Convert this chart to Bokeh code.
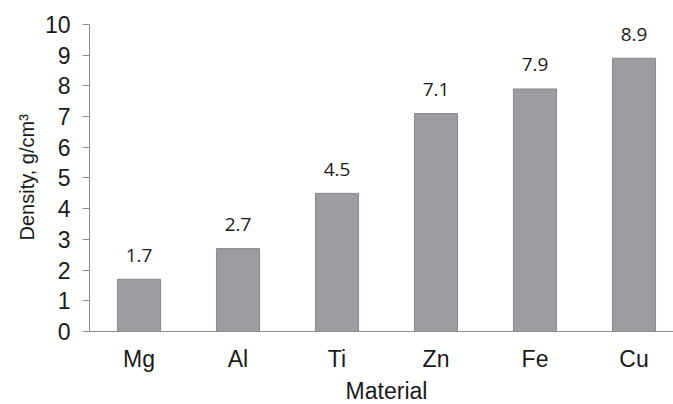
from bokeh.plotting import figure
from bokeh.models import ColumnDataSource, FixedTicker, Range1d, Span, Title
from bokeh.core.properties import value
from bokeh.embed import file_html
from bokeh.resources import INLINE

materials = ["Mg", "Al", "Ti", "Zn", "Fe", "Cu"]
density = [1.7, 2.7, 4.5, 7.1, 7.9, 8.9]
labels = ["1.7", "2.7", "4.5", "7.1", "7.9", "8.9"]
y_ticks = [0, 1, 2, 3, 4, 5, 6, 7, 8, 9, 10]
x_title = "Material"
y_title = "Density, g/cm\u00b3"

xpos = [i + 0.5 for i in range(len(materials))]
src = ColumnDataSource(dict(x=xpos, y=density, lab=labels))
cat_src = ColumnDataSource(dict(x=xpos, y=[0] * len(materials), lab=materials))
title_src = ColumnDataSource(dict(x=[len(materials) / 2], y=[0], lab=[x_title]))

p = figure(width=673, height=404, output_backend="svg", toolbar_location=None,
           x_axis_location=None,
           x_range=Range1d(0, 5.899), y_range=Range1d(-2.378, 10),
           min_border_left=89, min_border_top=24, min_border_bottom=0, min_border_right=0)
p.outline_line_color = None
p.xgrid.grid_line_color = None
p.ygrid.grid_line_color = None
p.background_fill_color = "white"

p.vbar(x="x", top="y", width=0.435, bottom=0, source=src,
       fill_color="#9b9da1", line_color="#87898d", line_width=1)
p.text(x="x", y="y", text="lab", source=src, y_offset=-24,
       text_align="center", text_baseline="alphabetic",
       text_font=value("Open Sans"), text_font_size="19px", text_color="#1a1a1a")

# x axis line at zero, category labels and title
p.add_layout(Span(location=0, dimension="width", line_color="#8c8c8c", line_width=1))
p.text(x="x", y="y", text="lab", source=cat_src, y_offset=28,
       text_align="center", text_baseline="alphabetic",
       text_font=value("Liberation Sans"), text_font_size="23px", text_color="#1a1a1a")
p.text(x="x", y="y", text="lab", source=title_src, y_offset=60,
       text_align="center", text_baseline="alphabetic",
       text_font=value("Liberation Sans"), text_font_size="23px", text_color="#1a1a1a")

# y axis
ya = p.yaxis[0]
ya.ticker = FixedTicker(ticks=y_ticks)
ya.bounds = (0, 10)
ya.axis_line_color = "#8c8c8c"
ya.major_tick_line_color = "#8c8c8c"
ya.major_tick_out = 7
ya.major_tick_in = 0
ya.minor_tick_line_color = None
ya.major_label_text_font = "Liberation Sans"
ya.major_label_text_font_size = "23px"
ya.major_label_text_color = "#1a1a1a"
ya.major_label_standoff = 12

# y axis title, aligned with the 0..10 part of the axis
yt = Title(text=y_title, align="left", offset=164, standoff=8,
           text_font="Liberation Sans", text_font_size="20px",
           text_font_style="normal", text_color="#1a1a1a")
p.add_layout(yt, "left")

open("out.html", "w").write(file_html(p, INLINE))
